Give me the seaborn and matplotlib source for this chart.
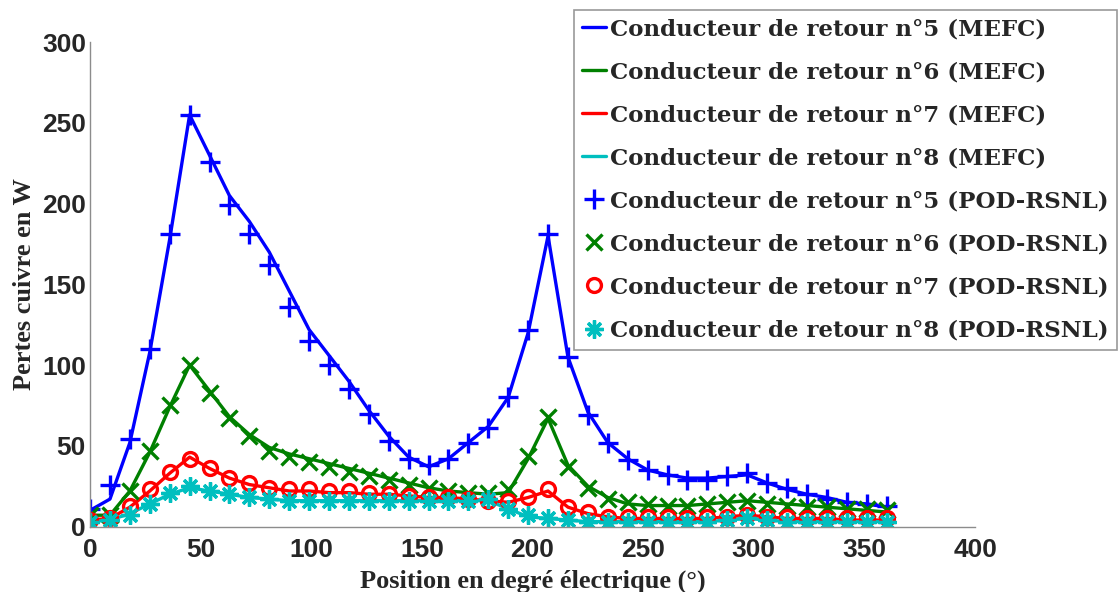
import matplotlib
matplotlib.use("Agg")
import matplotlib.pyplot as plt
import seaborn as sns

# ── Data ──────────────────────────────────────────────────────────────────────
POSITION = [0, 9, 18, 27, 36, 45, 54, 63, 72, 81, 90, 99, 108, 117, 126, 135,
            144, 153, 162, 171, 180, 189, 198, 207, 216, 225, 234, 243, 252,
            261, 270, 279, 288, 297, 306, 315, 324, 333, 342, 351, 360]

MEFC_5 = [10, 17, 52, 108, 178, 255, 230, 205, 189, 170, 146, 122, 106, 90, 72,
          56, 43, 37, 42, 52, 62, 80, 120, 180, 105, 71, 52, 42, 35, 32, 30, 30,
          31, 32, 27, 23, 20, 18, 15, 14, 12]
MEFC_6 = [7, 7, 22, 46, 74, 100, 84, 68, 57, 49, 45, 42, 39, 36, 33, 30, 27, 24,
          22, 21, 20, 21, 42, 67, 38, 25, 18, 14, 13, 13, 13, 14, 15, 16, 15, 14,
          13, 12, 11, 10, 9]
MEFC_7 = [4, 5, 12, 22, 33, 43, 36, 30, 26, 24, 22, 22, 21, 21, 20, 20, 19, 18,
          18, 17, 16, 15, 18, 22, 12, 8, 6, 5, 5, 5, 5, 5, 6, 7, 6, 5, 5, 5, 4,
          4, 4]
MEFC_8 = [3, 4, 8, 14, 20, 24, 22, 20, 18, 17, 16, 16, 16, 16, 16, 16, 16, 16,
          16, 16, 16, 11, 6, 5, 4, 3, 3, 3, 3, 3, 3, 3, 4, 5, 4, 3, 3, 3, 3, 3, 3]

POD_5 = [11, 26, 54, 110, 181, 255, 226, 199, 181, 162, 136, 115, 100, 85, 70,
         53, 42, 38, 42, 52, 61, 80, 122, 181, 105, 69, 52, 41, 35, 32, 29, 29,
         31, 33, 27, 24, 20, 17, 15, 14, 13]
POD_6 = [7, 7, 22, 47, 75, 100, 83, 67, 56, 47, 43, 40, 37, 34, 31, 29, 26, 24,
         22, 21, 21, 23, 44, 68, 37, 24, 17, 15, 14, 13, 13, 14, 15, 16, 14, 13,
         12, 12, 11, 11, 10]
POD_7 = [4, 5, 13, 23, 34, 42, 36, 30, 27, 24, 23, 23, 22, 22, 21, 20, 19, 18,
         18, 17, 16, 16, 18, 23, 12, 9, 6, 6, 6, 6, 5, 6, 6, 7, 6, 6, 5, 5, 5,
         5, 5]
POD_8 = [3, 4, 7, 14, 21, 25, 22, 20, 18, 17, 16, 16, 16, 16, 16, 16, 16, 16,
         16, 16, 17, 11, 7, 5, 4, 3, 3, 3, 3, 3, 3, 3, 4, 5, 4, 3, 3, 3, 3, 3, 3]

CONDUCTORS = ["5", "6", "7", "8"]
COLORS = ["#0000ff", "#008000", "#ff0000", "#00bfbf"]

# ── Figure ────────────────────────────────────────────────────────────────────
sns.set_theme(style="white")
plt.rcParams["font.family"] = ["Liberation Sans", "DejaVu Sans"]

fig = plt.figure(figsize=(11.2, 5.92), dpi=100)
ax = fig.add_axes([0.0804, 0.1106, 0.7902, 0.8180])

for num, vals, col in zip(CONDUCTORS, [MEFC_5, MEFC_6, MEFC_7, MEFC_8], COLORS):
    sns.lineplot(x=POSITION, y=vals, color=col, linewidth=2.4, ax=ax,
                 label=f"Conducteur de retour n°{num} (MEFC)")

# MATLAB-like markers: plus, cross, circle, 8-spoke asterisk
markers = ["+", "x", "o", (8, 2, 0)]
msizes = [15, 11, 10, 13]
for num, vals, col, mk, ms in zip(CONDUCTORS, [POD_5, POD_6, POD_7, POD_8],
                                  COLORS, markers, msizes):
    sns.lineplot(x=POSITION, y=vals, color=col, linestyle="", marker=mk,
                 markersize=ms, markeredgewidth=2.4,
                 markeredgecolor=col, markerfacecolor="none", ax=ax,
                 label=f"Conducteur de retour n°{num} (POD-RSNL)")

handles, labels = ax.get_legend_handles_labels()
if ax.get_legend() is not None:
    ax.get_legend().remove()

ax.set_xlim(0, 400)
ax.set_ylim(0, 300)
ax.set_xticks([0, 50, 100, 150, 200, 250, 300, 350, 400])
ax.set_yticks([0, 50, 100, 150, 200, 250, 300])

for side in ["top", "right"]:
    ax.spines[side].set_visible(False)
for side in ["left", "bottom"]:
    ax.spines[side].set_color("#8c8c8c")
    ax.spines[side].set_linewidth(1.0)

ax.tick_params(axis="both", direction="in", length=8, width=1, color="#8c8c8c",
               labelsize=19)
ax.tick_params(axis="x", pad=8)
ax.tick_params(axis="y", pad=3)
for t in ax.get_xticklabels() + ax.get_yticklabels():
    t.set_fontweight("bold")

ax.set_xlabel("Position en degré électrique (°)", fontsize=19, fontweight="bold",
              family="Liberation Serif", labelpad=6)
ax.set_ylabel("Pertes cuivre en W", fontsize=19, fontweight="bold",
              family="Liberation Serif", labelpad=4)

leg = fig.legend(handles, labels, loc="upper right",
                 bbox_to_anchor=(1117 / 1120, 1 - 10 / 592),
                 bbox_transform=fig.transFigure,
                 prop=dict(family="DejaVu Serif", weight="bold", size=16.5),
                 frameon=True, fancybox=False, framealpha=1, edgecolor="#999999",
                 handlelength=1.05, handletextpad=0.2, labelspacing=0.92,
                 borderpad=0.35, borderaxespad=0)
leg.get_frame().set_linewidth(1.2)

fig.savefig("out.png", dpi=100)
